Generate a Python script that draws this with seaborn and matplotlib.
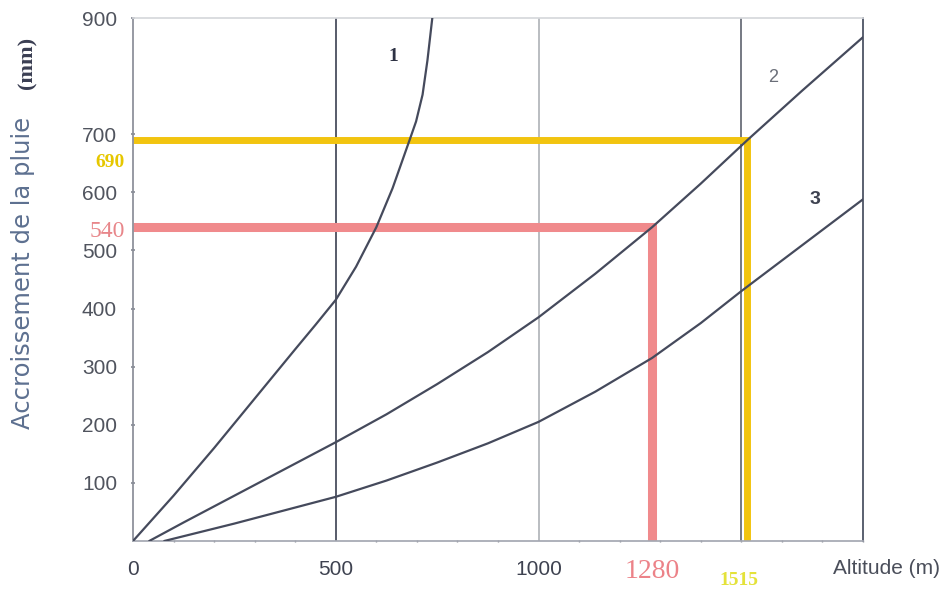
"""
Accroissement de la pluie en fonction de l'altitude (abaque, 3 courbes).
"""

import matplotlib
matplotlib.use("Agg")
import matplotlib.pyplot as plt
from matplotlib.ticker import MultipleLocator
import seaborn as sns
import pandas as pd

# ── Data ──────────────────────────────────────────────────────────
courbe1_alt = [0, 100, 200, 300, 400, 450, 500, 550, 600, 640, 682, 698, 714, 726, 738]
courbe1_pluie = [0, 78, 160, 245, 330, 372, 415, 472, 540, 607, 690, 722, 768, 827, 900]

courbe2_alt = [40, 125, 250, 375, 500, 625, 750, 875, 1000, 1140, 1280, 1400, 1515, 1650, 1800]
courbe2_pluie = [0, 32, 78, 124, 170, 218, 270, 325, 385, 460, 540, 615, 690, 775, 867]

courbe3_alt = [77, 250, 375, 500, 625, 750, 875, 1000, 1140, 1280, 1400, 1500, 1650, 1800]
courbe3_pluie = [0, 30, 53, 76, 104, 135, 168, 205, 257, 315, 375, 430, 509, 588]

repere_alt = [1280, 1515]
repere_pluie = [540, 690]
repere_couleur = ["#f08a8c", "#f2c40f"]

x_ticks = [0, 500, 1000]
y_ticks = [100, 200, 300, 400, 500, 600, 700, 900]
grille_x = [500, 1000, 1500]
grille_couleur = ["#4a4e5e", "#b4b8bc", "#6a6e7a"]

# ── Style ─────────────────────────────────────────────────────────
sns.set_theme(style="white")
plt.rcParams["font.family"] = ["Liberation Sans", "DejaVu Sans"]
CURVE = "#454a5c"

df = pd.concat([
    pd.DataFrame({"courbe": "1", "alt": courbe1_alt, "pluie": courbe1_pluie}),
    pd.DataFrame({"courbe": "2", "alt": courbe2_alt, "pluie": courbe2_pluie}),
    pd.DataFrame({"courbe": "3", "alt": courbe3_alt, "pluie": courbe3_pluie}),
])

fig = plt.figure(figsize=(9.44, 5.89), dpi=100)
ax = fig.add_axes([133 / 944, 48 / 589, 730 / 944, 523 / 589])

# vertical grid lines
for gx, gc in zip(grille_x, grille_couleur):
    ax.axvline(gx, color=gc, linewidth=1.3, zorder=1)

# the three curves
sns.lineplot(data=df, x="alt", y="pluie", units="courbe", estimator=None,
             color=CURVE, linewidth=1.6, ax=ax, zorder=3)

# red / yellow reading lines
for alt, pluie, col in zip(repere_alt, repere_pluie, repere_couleur):
    lw = 6.5 if alt == repere_alt[0] else 5
    ax.plot([0, alt, alt], [pluie, pluie, 0], color=col, linewidth=lw,
            solid_joinstyle="miter", solid_capstyle="butt", zorder=2)

ax.set_xlim(0, 1800)
ax.set_ylim(0, 900)
ax.set_xlabel("")
ax.set_ylabel("")

# spines
ax.spines["left"].set_color("#8a8e98")
ax.spines["bottom"].set_color("#a4a8b2")
ax.spines["top"].set_color("#d6d8dc")
ax.spines["right"].set_color("#5a6070")
ax.spines["right"].set_linewidth(1.4)

# ticks
ax.set_xticks(x_ticks)
ax.set_yticks(y_ticks)
ax.xaxis.set_minor_locator(MultipleLocator(100))
ax.tick_params(axis="x", which="major", length=3, direction="inout",
               colors="#8a8e98", labelcolor="#3e4250", labelsize=15, pad=12)
ax.tick_params(axis="x", which="minor", length=2, direction="inout",
               colors="#8a8e98", bottom=True)
ax.tick_params(axis="y", length=3, direction="inout", colors="#8a8e98",
               labelcolor="#50545e", labelsize=15, pad=10, left=True)

# colored values of the reading lines
ax.annotate(str(repere_pluie[0]), xy=(0, repere_pluie[0]),
            xycoords=("axes fraction", "data"), xytext=(-6, -3),
            textcoords="offset points", ha="right", va="center",
            fontsize=17, family="Liberation Serif", color="#e8868a")
ax.annotate(str(repere_pluie[1]), xy=(0, repere_pluie[1]),
            xycoords=("axes fraction", "data"), xytext=(-6, -16.5),
            textcoords="offset points", ha="right", va="center",
            fontsize=14, family="Liberation Serif", fontweight="bold",
            color="#e6c700")
ax.annotate(str(repere_alt[0]), xy=(repere_alt[0], 0),
            xycoords=("data", "axes fraction"), xytext=(0, -13),
            textcoords="offset points", ha="center", va="top",
            fontsize=20, family="Liberation Serif", color="#ec8288")
ax.annotate(str(repere_alt[1]), xy=(repere_alt[1], 0),
            xycoords=("data", "axes fraction"), xytext=(-6, -22),
            textcoords="offset points", ha="center", va="top",
            fontsize=14, family="Liberation Serif", fontweight="bold",
            color="#e4e23a")

# curve numbers
ax.text(641, 833, "1", fontsize=14, family="Liberation Serif",
        fontweight="bold", color="#2e3244", ha="center", va="center")
ax.text(1578, 797, "2", fontsize=13, color="#6a6e78", ha="center", va="center")
ax.text(1681, 587, "3", fontsize=14, fontweight="bold", color="#3e4250",
        ha="center", va="center")

# axis titles
fig.text(833 / 944, 1 - 569 / 589, "Altitude (m)", fontsize=15,
         color="#4a4e5a", ha="left", va="center")
fig.text(23 / 944, 1 - 273 / 589, "Accroissement de la pluie", rotation=90,
         fontsize=17.5, family="DejaVu Sans", color="#5d7090",
         ha="center", va="center")
fig.text(27 / 944, 1 - 63 / 589, "(mm)", rotation=90, fontsize=16,
         family="Liberation Serif", fontweight="bold", color="#3a3e52",
         ha="center", va="center")

fig.savefig("out.png", dpi=100)
plt.close(fig)
